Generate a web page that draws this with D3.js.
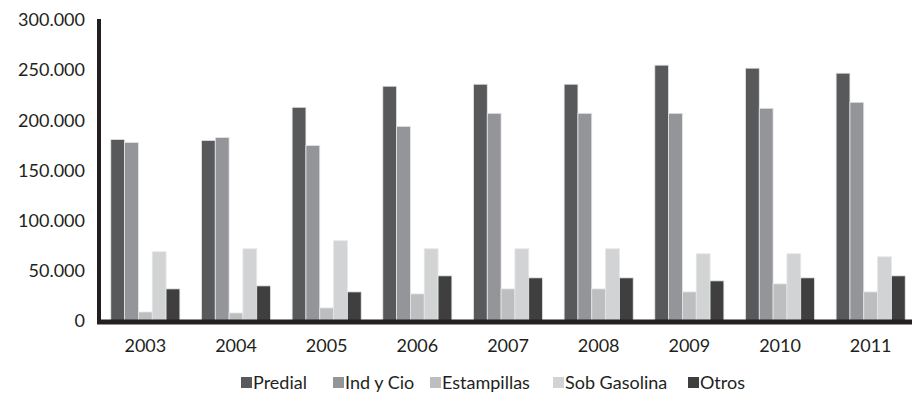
<!DOCTYPE html>
<html>
<head>
<meta charset="utf-8">
<script src="https://cdn.jsdelivr.net/npm/d3@7"></script>
<style>
  html, body { margin: 0; padding: 0; background: #fff; }
  svg { display: block; }
  text { font-family: Lato, "Open Sans", sans-serif; fill: #231f20; }
</style>
</head>
<body>
<svg id="chart" width="914" height="403"></svg>
<script>
// Ingresos tributarios por año (valores en miles)
const years = ["2003", "2004", "2005", "2006", "2007", "2008", "2009", "2010", "2011"];
const seriesNames = ["Predial", "Ind y Cio", "Estampillas", "Sob Gasolina", "Otros"];
const predial     = [181000, 180000, 213000, 234000, 236000, 236000, 255000, 252000, 247000];
const indYCio     = [178000, 183000, 175000, 194000, 207000, 207000, 207000, 212000, 218000];
const estampillas = [9000, 8000, 13000, 27000, 32000, 32000, 29000, 37000, 29000];
const sobGasolina = [69000, 72000, 80000, 72000, 72000, 72000, 67000, 67000, 64000];
const otros       = [32000, 35000, 29000, 45000, 43000, 43000, 40000, 43000, 45000];
const yTicks = [0, 50000, 100000, 150000, 200000, 250000, 300000];

const seriesValues = [predial, indYCio, estampillas, sobGasolina, otros];
const colors = ["#58595b", "#939598", "#bcbec0", "#d1d3d4", "#3f3f40"];

const locale = d3.formatLocale({ decimal: ",", thousands: ".", grouping: [3], currency: ["$", ""] });
const fmt = locale.format(",d");

const svg = d3.select("#chart");

const x0 = d3.scaleBand()
  .domain(years)
  .range([100, 916])
  .paddingInner(0.238)
  .paddingOuter(0.119);

const x1 = d3.scaleBand()
  .domain(seriesNames)
  .range([0, x0.bandwidth()]);

const y = d3.scaleLinear()
  .domain([0, 300000])
  .range([321, 20]);

// Barras agrupadas por año
const groups = svg.append("g")
  .selectAll("g")
  .data(years)
  .join("g")
  .attr("transform", d => `translate(${x0(d)},0)`);

groups.selectAll("rect")
  .data((yr, i) => seriesNames.map((s, k) => ({ s, k, v: seriesValues[k][i] })))
  .join("rect")
  .attr("x", d => x1(d.s))
  .attr("y", d => y(d.v))
  .attr("width", x1.bandwidth())
  .attr("height", d => y(0) - y(d.v))
  .attr("fill", d => colors[d.k])
  .attr("stroke", "#e6e7e8")
  .attr("stroke-width", 0.8);

// Eje Y
const yAxis = svg.append("g")
  .attr("transform", "translate(99,0)")
  .call(d3.axisLeft(y).tickValues(yTicks).tickFormat(fmt).tickSize(0).tickPadding(14));
yAxis.select(".domain").remove();
yAxis.selectAll("text")
  .style("font-size", "18px")
  .style("font-family", "Lato, sans-serif")
  .attr("fill", "#231f20");

// Eje X
const xAxis = svg.append("g")
  .attr("transform", "translate(0,321)")
  .call(d3.axisBottom(x0).tickSize(0).tickPadding(18));
xAxis.select(".domain").remove();
xAxis.selectAll("text")
  .style("font-size", "18px")
  .style("font-family", "Lato, sans-serif")
  .attr("fill", "#231f20");

// Líneas de los ejes
svg.append("line")
  .attr("x1", 99).attr("x2", 99)
  .attr("y1", 19).attr("y2", y(0) + 3)
  .attr("stroke", "#231f20").attr("stroke-width", 4);
svg.append("line")
  .attr("x1", 97).attr("x2", 912)
  .attr("y1", y(0) + 1).attr("y2", y(0) + 1)
  .attr("stroke", "#231f20").attr("stroke-width", 5);

// Leyenda
const legendX = [241, 333, 430, 553, 688];
const legend = svg.append("g");
seriesNames.forEach((name, k) => {
  const g = legend.append("g").attr("transform", `translate(${legendX[k]},383)`);
  g.append("rect")
    .attr("x", 0).attr("y", -6)
    .attr("width", 11).attr("height", 11)
    .attr("fill", colors[k]);
  g.append("text")
    .attr("x", 12).attr("y", 0)
    .attr("dy", "0.35em")
    .style("font-size", "18px")
    .text(name);
});
</script>
</body>
</html>
